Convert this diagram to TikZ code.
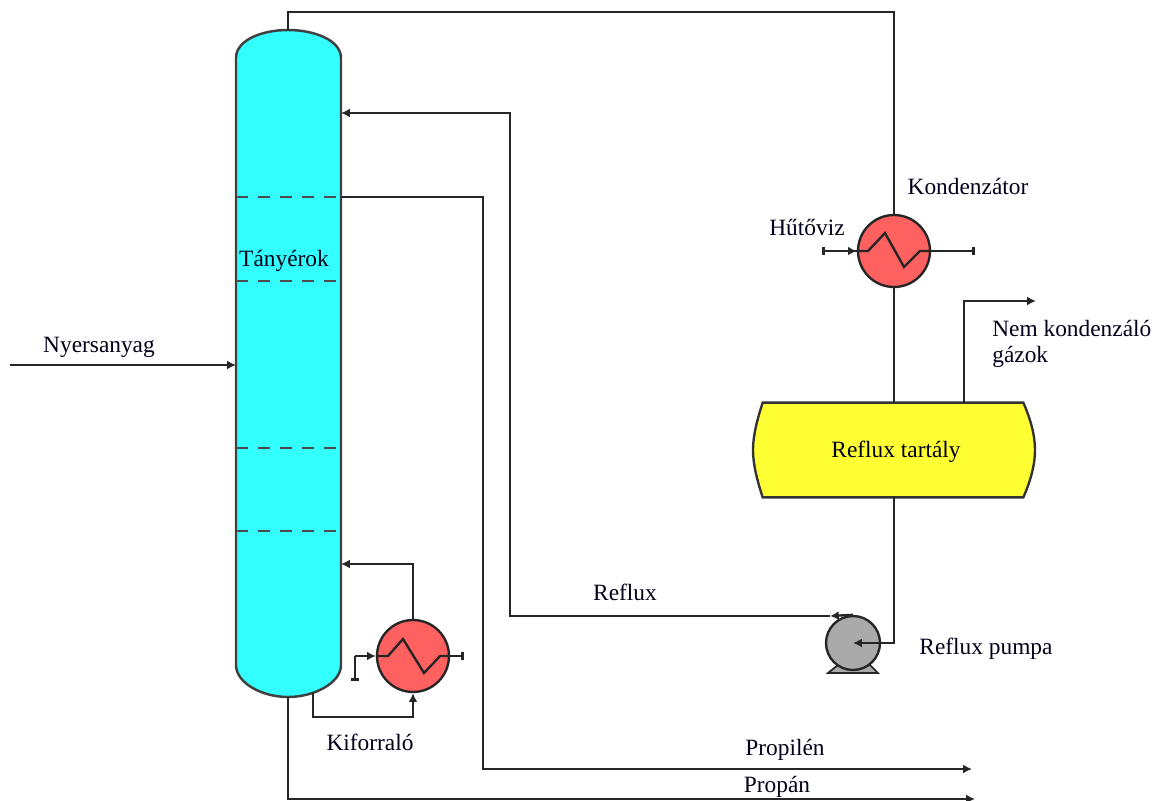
\documentclass[tikz,border=0pt]{standalone}
\usepackage{fontspec}
\setmainfont{Liberation Serif}
\usetikzlibrary{arrows.meta}
\definecolor{columncyan}{RGB}{51,255,255}
\definecolor{tankyellow}{RGB}{255,255,51}
\definecolor{exchred}{RGB}{255,96,96}
\definecolor{pumpgray}{RGB}{170,170,170}
\tikzset{
  pipe/.style={draw=black!85, line width=1.35pt},
  inlet/.style={pipe, -{Latex[length=5pt,width=5pt]}},
  stubend/.style={pipe, -{Bar[width=4.5pt,line width=1.6pt]}},
  label/.style={font=\fontsize{13.3}{15}\selectfont, text=black!90!blue, inner sep=0pt},
  exchanger/.style={circle, draw=black!85, line width=1.35pt, fill=exchred, minimum size=1.44cm, inner sep=0pt},
  tray/.style={draw=black!70, line width=1.5pt, dash pattern=on 7pt off 5.5pt},
  zigzag/.style={draw=black!85, line width=1.35pt}
}
\begin{document}
\begin{tikzpicture}[x=0.02cm, y=-0.02cm]
  \useasboundingbox (0,0) rectangle (1160,801);
  \coordinate (coltop) at (288,30);
  \coordinate (colbot) at (288,697);
  \coordinate (coltopin) at (341,113);
  \coordinate (colfeed) at (236,365);
  \coordinate (coldraw) at (341,197);
  \coordinate (colret) at (341,564);
  \coordinate (colout) at (313,693);
  \coordinate (feed) at (10,365);
  \draw[fill=columncyan, draw=black!75, line width=1.4pt] (236,58) .. controls (236,40) and (262,30) .. (coltop)
    .. controls (314,30) and (341,40) .. (341,58) -- (341,665) .. controls (341,683) and (314,697) .. (colbot)
    .. controls (262,697) and (236,683) .. (236,665) -- cycle;
  \draw[tray] (236,197) -- (341,197);
  \draw[tray] (236,281) -- (341,281);
  \draw[tray] (236,448) -- (341,448);
  \draw[tray] (236,531) -- (341,531);
  \node[exchanger] (cond) at (894,251) {};
  \node[exchanger] (reb) at (413,656) {};
  \node[inner sep=0pt, minimum width=5.2cm, minimum height=1.88cm] (tank) at (893,450) {};
  \draw[fill=tankyellow, draw=black!80, line width=1.35pt] (tank.north west) -- (tank.north east)
    .. controls (1031,420) and (1035,436) .. (1035,450) .. controls (1035,464) and (1031,480) .. (tank.south east)
    -- (tank.south west) .. controls (757,480) and (753,464) .. (753,450) .. controls (753,436) and (757,420) .. cycle;
  \draw[fill=pumpgray, draw=black!85, line width=1pt] (838,665) -- (870,665) -- (878,673) -- (828,673) -- cycle;
  \node[circle, draw=black!85, line width=1.35pt, fill=pumpgray, minimum size=1.08cm, inner sep=0pt] (pump) at (853,643) {};
  \draw[zigzag] (cond.west) -- (868,251) -- (885,233) -- (904,267) -- (920,251) -- (cond.east);
  \draw[zigzag] (reb.west) -- (388,656) -- (403,639) -- (424,673) -- (440,656) -- (reb.east);
  \draw[pipe] (coltop) -- (288,12) -- (894,12) -- (cond.north);
  \draw[pipe] (cond.south) -- (894,403);
  \draw[inlet] (894,497) -- (894,643) -- (pump.center);
  \draw[inlet] (pump.north) -- (830,616);
  \draw[inlet] (830,616) -- (510,616) -- (510,113) -- (coltopin);
  \draw[inlet] (964,403) -- (964,301) -- (1036,301);
  \draw[inlet] (feed) -- (colfeed);
  \draw[inlet] (822,251) -- (cond.west);
  \draw[stubend] (cond.west) -- (822,251);
  \draw[stubend] (cond.east) -- (975,251);
  \draw[inlet] (reb.north) -- (413,564) -- (colret);
  \draw[inlet] (colout) -- (313,717) -- (413,717) -- (reb.south);
  \draw[inlet] (355,656) -- (reb.west);
  \draw[stubend] (355,656) -- (355,681);
  \draw[stubend] (reb.east) -- (464,656);
  \draw[inlet] (coldraw) -- (483,197) -- (483,769) -- (972,769);
  \draw[inlet] (colbot) -- (288,799) -- (975,799);
  \node[label] (feedlabel) at (99,347) {Nyersanyag};
  \node[label] (traylabel) at (284,261) {Tányérok};
  \node[label] (coolantlabel) at (807,227) {Hűtőviz};
  \node[label] (condlabel) at (968,186) {Kondenzátor};
  \node[label, anchor=west, align=left] (gaslabel) at (992,344) {Nem kondenzáló\\gázok};
  \node[label] (tanklabel) at (896,452) {Reflux tartály};
  \node[label] (refluxlabel) at (625,592) {Reflux};
  \node[label] (pumplabel) at (986,649) {Reflux pumpa};
  \node[label] (reblabel) at (370,742) {Kiforraló};
  \node[label] (propylenelabel) at (785,750) {Propilén};
  \node[label] (propanelabel) at (777,787) {Propán};
\end{tikzpicture}
\end{document}
